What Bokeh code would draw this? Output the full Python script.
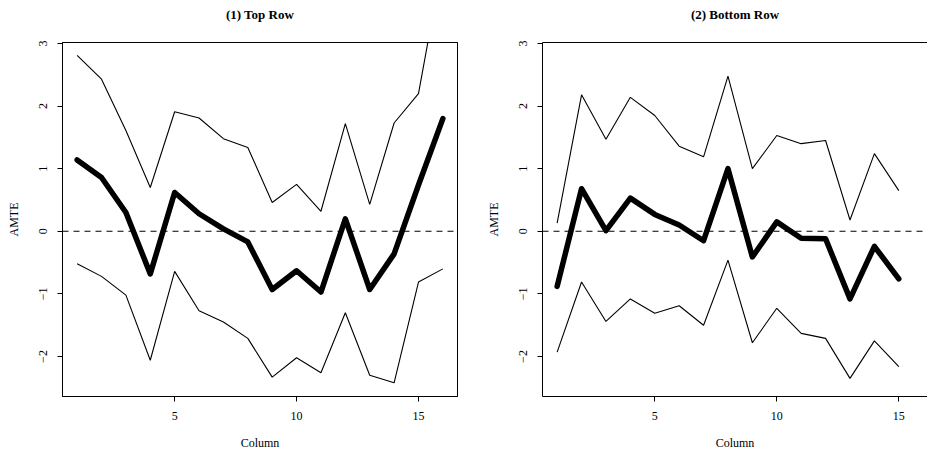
from bokeh.plotting import figure
from bokeh.models import LinearAxis, FixedTicker, Span, Range1d
from bokeh.layouts import row
from bokeh.embed import file_html
from bokeh.resources import INLINE

# ---- data ----
left_cols = list(range(1, 17))
left_upper = [2.81, 2.43, 1.61, 0.70, 1.91, 1.81, 1.48, 1.34, 0.46, 0.75, 0.32, 1.72, 0.43, 1.73, 2.20, 4.33]
left_mean = [1.14, 0.86, 0.30, -0.68, 0.62, 0.28, 0.04, -0.17, -0.93, -0.63, -0.97, 0.20, -0.93, -0.36, 0.74, 1.80]
left_lower = [-0.52, -0.72, -1.02, -2.06, -0.64, -1.27, -1.45, -1.71, -2.33, -2.02, -2.26, -1.30, -2.30, -2.42, -0.81, -0.60]

right_cols = list(range(1, 16))
right_upper = [0.13, 2.18, 1.47, 2.14, 1.85, 1.36, 1.19, 2.48, 1.00, 1.53, 1.40, 1.45, 0.18, 1.24, 0.65]
right_mean = [-0.88, 0.68, 0.01, 0.53, 0.27, 0.10, -0.15, 1.00, -0.41, 0.15, -0.11, -0.12, -1.08, -0.24, -0.76]
right_lower = [-1.93, -0.81, -1.44, -1.08, -1.31, -1.19, -1.50, -0.46, -1.78, -1.23, -1.63, -1.71, -2.35, -1.75, -2.16]

y_ticks = [-2, -1, 0, 1, 2, 3]
x_ticks = [5, 10, 15]
titles = ["(1) Top Row", "(2) Bottom Row"]
x_label = "Column"
y_label = "AMTE"

FONT = "Liberation Serif"


def panel(cols, upper, mean, lower, title, width, mbl, mbr, x_end, outline):
    p = figure(width=width, height=452, output_backend="svg", toolbar_location=None,
               title=None,
               x_range=Range1d(0.4, x_end), y_range=Range1d(-2.639, 3.016),
               min_border_left=mbl, min_border_right=mbr,
               min_border_top=42, min_border_bottom=56)
    p.xgrid.visible = False
    p.ygrid.visible = False
    p.background_fill_color = "white"
    p.border_fill_color = "white"
    p.outline_line_color = "black" if outline else None
    p.outline_line_width = 1

    for ax in (p.xaxis[0], p.yaxis[0]):
        ax.axis_line_color = "black"
        ax.axis_line_width = 1
        ax.major_tick_line_color = "black"
        ax.major_tick_out = 5
        ax.major_tick_in = 0
        ax.minor_tick_line_color = None
        ax.major_label_text_font = FONT
        ax.major_label_text_font_size = "12px"
        ax.major_label_text_color = "black"
        ax.axis_label_text_font = FONT
        ax.axis_label_text_font_size = "12px"
        ax.axis_label_text_font_style = "normal"
        ax.axis_label_text_color = "black"
    p.xaxis[0].ticker = FixedTicker(ticks=x_ticks)
    p.xaxis[0].major_label_standoff = 10
    p.xaxis[0].axis_label = x_label
    p.xaxis[0].axis_label_standoff = 13
    p.yaxis[0].ticker = FixedTicker(ticks=y_ticks)
    p.yaxis[0].major_label_orientation = "parallel"
    p.yaxis[0].major_label_standoff = 10
    p.yaxis[0].major_label_overrides = {-2: "\u22122", -1: "\u22121"}
    p.yaxis[0].axis_label = y_label
    p.yaxis[0].axis_label_standoff = 16

    # top edge of the box, carrying the panel title as its label
    top = LinearAxis(ticker=FixedTicker(ticks=[]), major_tick_out=0, major_tick_in=0,
                     minor_tick_line_color=None, major_label_text_font_size="0px",
                     major_label_standoff=0, axis_label=title, axis_label_standoff=21,
                     axis_label_text_font=FONT, axis_label_text_font_size="13px",
                     axis_label_text_font_style="bold", axis_label_text_color="black",
                     axis_line_color="black", axis_line_width=1)
    p.add_layout(top, "above")

    p.add_layout(Span(location=0, dimension="width", line_color="black",
                      line_width=1.1, line_dash="6 5"))

    p.line(cols, upper, line_color="black", line_width=1.1)
    p.line(cols, lower, line_color="black", line_width=1.1)
    p.line(cols, mean, line_color="black", line_width=5.5, line_join="round", line_cap="round")
    return p


p1 = panel(left_cols, left_upper, left_mean, left_lower, titles[0], 480, 62, 23, 16.6, True)
p2 = panel(right_cols, right_upper, right_mean, right_lower, titles[1], 447, 62, 0, 16.176, False)

layout = row(p1, p2)
open("out.html", "w").write(file_html(layout, INLINE))
